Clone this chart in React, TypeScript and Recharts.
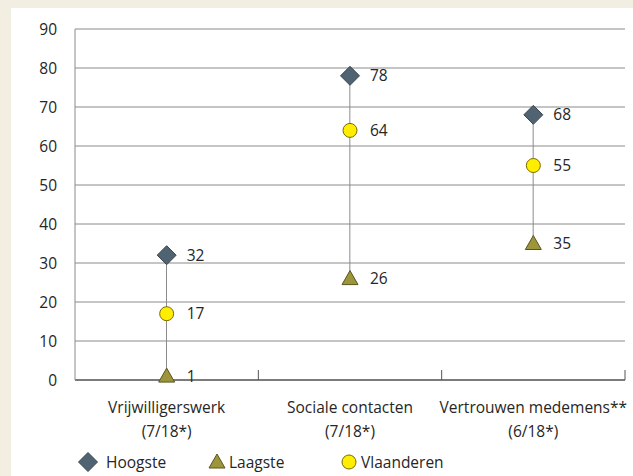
import React from "react";
import { ComposedChart, XAxis, YAxis, CartesianGrid, Bar, Line, LabelList, Legend } from "recharts";

const categories = ["Vrijwilligerswerk", "Sociale contacten", "Vertrouwen medemens**"];
const subLabels = ["(7/18*)", "(7/18*)", "(6/18*)"];
const hoogste = [32, 78, 68];
const laagste = [1, 26, 35];
const vlaanderen = [17, 64, 55];
const yTicks = [0, 10, 20, 30, 40, 50, 60, 70, 80, 90];

const data = categories.map((c, i) => ({
  name: c,
  sub: subLabels[i],
  hoogste: hoogste[i],
  laagste: laagste[i],
  vlaanderen: vlaanderen[i],
  range: [laagste[i], hoogste[i]],
}));

const FONT = "'Open Sans', sans-serif";
const TEXT = "#262626";
const FS = 15.5;

const Diamond = (props: any) => {
  const { cx, cy } = props;
  if (cx == null || cy == null) return null;
  const r = 9.5;
  return <path d={`M${cx},${cy - r}L${cx + r},${cy}L${cx},${cy + r}L${cx - r},${cy}Z`} fill="#4f6373" stroke="#3a4650" strokeWidth={1} />;
};
const Triangle = (props: any) => {
  const { cx, cy } = props;
  if (cx == null || cy == null) return null;
  return <path d={`M${cx},${cy - 8}L${cx + 8},${cy + 6}L${cx - 8},${cy + 6}Z`} fill="#9c953a" stroke="#5a5420" strokeWidth={1} />;
};
const Circle = (props: any) => {
  const { cx, cy } = props;
  if (cx == null || cy == null) return null;
  return <circle cx={cx} cy={cy} r={7} fill="#ffee00" stroke="#7a6a00" strokeWidth={1} />;
};

const ValueLabel = (props: any) => {
  const { x, y, value } = props;
  return (
    <text x={x + 20} y={y} dy={5.5} fontSize={FS} fontFamily={FONT} fill={TEXT}>
      {value}
    </text>
  );
};

const CatTick = (props: any) => {
  const { x, y, payload, index } = props;
  const half = 550 / categories.length / 2;
  const axisY = y - 8;
  return (
    <g>
      <line x1={x + half} x2={x + half} y1={axisY - 10} y2={axisY} stroke="#555555" strokeWidth={1} />
      <text x={x} y={y + 25} textAnchor="middle" fontSize={FS} fontFamily={FONT} fill={TEXT}>
        {payload.value}
      </text>
      <text x={x} y={y + 49} textAnchor="middle" fontSize={FS} fontFamily={FONT} fill={TEXT}>
        {subLabels[index]}
      </text>
    </g>
  );
};

const legendItems = [
  { label: "Hoogste", Icon: Diamond, x: 88, dx: 18 },
  { label: "Laagste", Icon: Triangle, x: 217, dx: 12 },
  { label: "Vlaanderen", Icon: Circle, x: 349, dx: 12 },
];

const LegendContent = () => (
  <svg width={633} height={36} style={{ display: "block" }}>
    {legendItems.map(({ label, Icon, x, dx }) => (
      <g key={label}>
        <Icon cx={x} cy={22} />
        <text x={x + dx} y={27.5} fontSize={FS} fontFamily={FONT} fill={TEXT}>
          {label}
        </text>
      </g>
    ))}
  </svg>
);

export default function App() {
  return (
    <div style={{ position: "fixed", left: 0, top: 0, width: 633, height: 476, background: "#f2efe2" }}>
      <div style={{ position: "absolute", left: 11, top: 8, width: 622, height: 468, background: "#ffffff" }} />
      <div style={{ position: "absolute", left: 0, top: 0 }}>
        <ComposedChart width={633} height={476} data={data} margin={{ top: 29, right: 8, bottom: 0, left: 30 }} barSize={1}>
          <CartesianGrid vertical={false} stroke="#8a8a8a" strokeWidth={1} />
          <XAxis
            dataKey="name"
            height={60}
            tick={<CatTick />}
            tickLine={false}
            axisLine={{ stroke: "#333333" }}
            interval={0}
          />
          <YAxis
            domain={[0, 90]}
            ticks={yTicks}
            width={45}
            tickLine={false}
            axisLine={{ stroke: "#8a8a8a" }}
            tick={{ fontSize: FS, fontFamily: FONT, fill: TEXT }}
            tickMargin={12}
          />
          <Bar dataKey="range" fill="#8c8c8c" isAnimationActive={false} />
          <Line dataKey="hoogste" stroke="none" dot={<Diamond />} activeDot={false} isAnimationActive={false}>
            <LabelList dataKey="hoogste" content={<ValueLabel />} />
          </Line>
          <Line dataKey="vlaanderen" stroke="none" dot={<Circle />} activeDot={false} isAnimationActive={false}>
            <LabelList dataKey="vlaanderen" content={<ValueLabel />} />
          </Line>
          <Line dataKey="laagste" stroke="none" dot={<Triangle />} activeDot={false} isAnimationActive={false}>
            <LabelList dataKey="laagste" content={<ValueLabel />} />
          </Line>
          <Legend verticalAlign="bottom" height={36} wrapperStyle={{ left: 0, width: 633 }} content={<LegendContent />} />
        </ComposedChart>
      </div>
    </div>
  );
}
